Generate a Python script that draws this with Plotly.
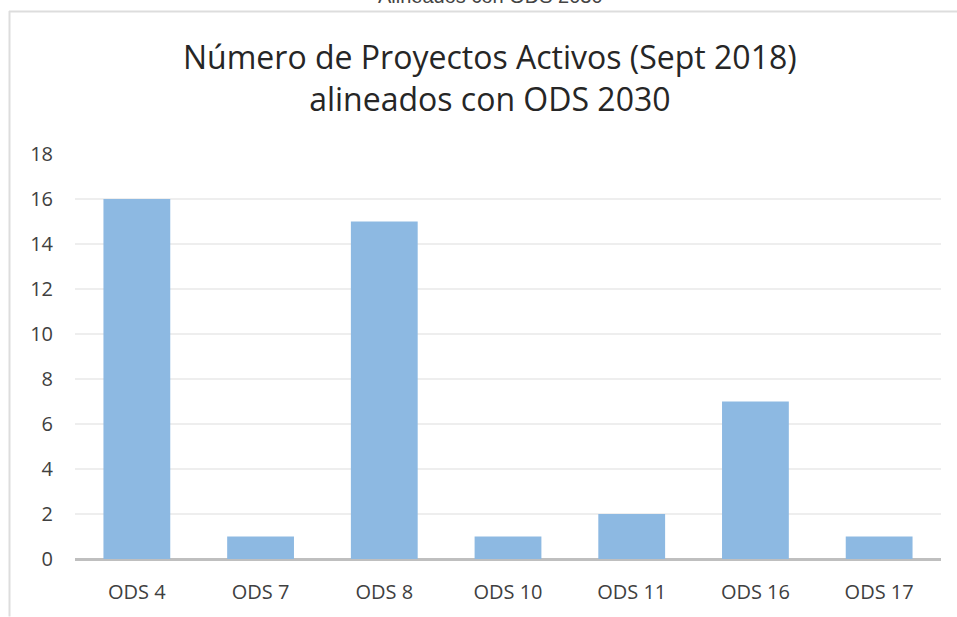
import plotly.graph_objects as go

categories = ["ODS 4", "ODS 7", "ODS 8", "ODS 10", "ODS 11", "ODS 16", "ODS 17"]
values = [16, 1, 15, 1, 2, 7, 1]
y_ticks = [0, 2, 4, 6, 8, 10, 12, 14, 16, 18]

W, H = 957, 617
# plot area in page pixels: x 75..941, y 154..562
L, R, T, B = 75, 957 - 941, 154, 617 - 562
pw, ph = W - L - R, H - T - B

def px_x(p):
    return (p - L) / pw

def px_y(p):
    return (H - B - p) / ph

fig = go.Figure(go.Bar(
    x=categories, y=values,
    marker=dict(color="#8DB9E2", line=dict(width=0)),
))

fig.update_layout(
    width=W, height=H,
    margin=dict(l=L, r=R, t=T, b=B),
    plot_bgcolor="white", paper_bgcolor="white",
    bargap=0.46,
    showlegend=False,
    font=dict(family="Open Sans, Lato, sans-serif", color="#404040", size=20),
    xaxis=dict(showgrid=False, showline=False, ticks="", tickfont=dict(size=20, color="#404040"),
               ticklabelstandoff=19, fixedrange=True),
    yaxis=dict(range=[0, 18], tickvals=y_ticks, showgrid=True, gridcolor="#EEEEEE", gridwidth=1.5,
               zeroline=True, zerolinecolor="#BFBFBF", zerolinewidth=2.5,
               tickfont=dict(size=20, color="#404040"), ticklabelstandoff=21, fixedrange=True),
    annotations=[
        dict(text="Número de Proyectos Activos (Sept 2018)<br>alineados con ODS 2030",
             x=px_x(490), y=px_y(77), xref="paper", yref="paper", showarrow=False,
             xanchor="center", yanchor="middle",
             font=dict(family="Open Sans, Lato, sans-serif", size=32, color="#262626")),
        dict(text="Alineados con ODS 2030",
             x=px_x(490), y=px_y(-5), xref="paper", yref="paper", showarrow=False,
             xanchor="center", yanchor="middle",
             font=dict(family="Liberation Sans, Arial, sans-serif", size=20, color="#444444")),
    ],
    shapes=[
        dict(type="line", xref="paper", yref="paper", x0=px_x(9.5), x1=px_x(9.5), y0=px_y(10), y1=px_y(620),
             line=dict(color="#DDDDDD", width=2)),
        dict(type="line", xref="paper", yref="paper", x0=px_x(9), x1=px_x(960), y0=px_y(10.5), y1=px_y(10.5),
             line=dict(color="#DDDDDD", width=2)),
    ],
)

fig.write_html("out.html", config={"displayModeBar": False},
               post_script="document.body.style.margin='0';document.body.style.overflow='hidden';")
